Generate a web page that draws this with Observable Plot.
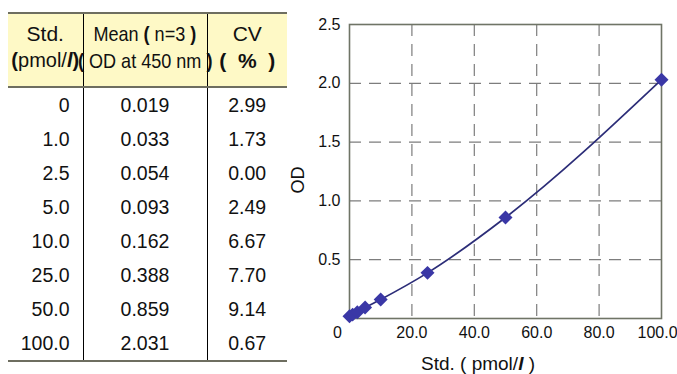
<!DOCTYPE html>
<html>
<head>
<meta charset="utf-8">
<script src="https://cdn.jsdelivr.net/npm/d3@7"></script>
<script src="https://cdn.jsdelivr.net/npm/@observablehq/plot@0.6"></script>
<style>
  html, body { margin: 0; padding: 0; background: #fff; }
  body { width: 677px; height: 374px; position: relative; overflow: hidden;
         font-family: "Liberation Sans", Arial, sans-serif; color: #111; }
  #tbl { position: absolute; left: 8px; top: 12px; border-collapse: collapse;
         table-layout: fixed; width: 279px; }
  #tbl th, #tbl td { padding: 0; border-left: 1px solid #000; border-right: 1px solid #000; }
  #tbl th:first-child, #tbl td:first-child { border-left: none; }
  #tbl th:last-child, #tbl td:last-child { border-right: none; }
  #tbl thead tr { border-top: 2px solid #6e6e60; border-bottom: 2px solid #6e6e60; background: #fef9c6; }
  #tbl tbody tr:last-child { border-bottom: 2px solid #6e6e60; }
  #tbl th { height: 66px; vertical-align: top; padding-top: 6px; font-weight: normal;
            text-align: center; font-size: 20px; line-height: 27px; white-space: nowrap; }
  #tbl td { height: 34px; font-size: 19.5px; text-align: center; }
  #tbl td.c0 { text-align: right; padding-right: 13px; }
  .fl { display: flex; justify-content: center; width: 100%; }
  .cond { display: inline-block; transform: scaleX(0.86); transform-origin: center; white-space: nowrap; font-size: 21px; }
  .bp { font-weight: bold; }
  #plot { position: absolute; left: 290px; top: 0; }
  #xlab { position: absolute; left: 378px; width: 200px; top: 353px; text-align: center;
          font-size: 19px; line-height: 22px; }
  #ylab { position: absolute; left: 278px; top: 169px; width: 40px; text-align: center;
          font-size: 18px; line-height: 22px; transform: rotate(-90deg); }
</style>
</head>
<body>
<table id="tbl">
  <colgroup><col style="width:75px"><col style="width:124px"><col style="width:80px"></colgroup>
  <thead><tr>
    <th><div style="font-size:21px">Std.</div><div class="fl"><span><span class="bp">(</span>pmol/<b><i>l</i></b><span class="bp">)</span></span></div></th>
    <th><div class="fl"><span class="cond">Mean <span class="bp">(</span> n=3 <span class="bp">)</span></span></div><div class="fl"><span class="cond"><span class="bp">(</span> OD at 450 nm <span class="bp">)</span></span></div></th>
    <th><div style="font-size:21px">CV</div><div class="bp" style="font-size:21px">(&nbsp;&nbsp;%&nbsp;&nbsp;)</div></th>
  </tr></thead>
  <tbody id="tb"></tbody>
</table>
<div id="plot"></div>
<div id="ylab">OD</div>
<div id="xlab">Std. ( pmol/<b><i>l</i></b> )</div>
<script>
const stdValues = [0, 1.0, 2.5, 5.0, 10.0, 25.0, 50.0, 100.0];
const stdLabels = ["0", "1.0", "2.5", "5.0", "10.0", "25.0", "50.0", "100.0"];
const meanOD = [0.019, 0.033, 0.054, 0.093, 0.162, 0.388, 0.859, 2.031];
const meanLabels = ["0.019", "0.033", "0.054", "0.093", "0.162", "0.388", "0.859", "2.031"];
const cvLabels = ["2.99", "1.73", "0.00", "2.49", "6.67", "7.70", "9.14", "0.67"];
const xTicks = [20, 40, 60, 80];
const xTickLast = [100];
const yTicks = [0.5, 1.0, 1.5, 2.0, 2.5];
const xGrid = [20, 40, 60, 80];
const yGrid = [0.5, 1.0, 1.5, 2.0];

// table
const tb = document.getElementById("tb");
stdLabels.forEach((s, i) => {
  const tr = document.createElement("tr");
  tr.innerHTML = `<td class="c0">${s}</td><td>${meanLabels[i]}</td><td>${cvLabels[i]}</td>`;
  tb.appendChild(tr);
});

const data = stdValues.map((x, i) => ({x, y: meanOD[i]}));

const chart = Plot.plot({
  width: 387,
  height: 374,
  marginLeft: 59,
  marginRight: 16,
  marginTop: 24,
  marginBottom: 56,
  style: {fontFamily: "'Liberation Sans', Arial, sans-serif", fontSize: "16px", color: "#111", background: "transparent", overflow: "visible"},
  x: {domain: [0, 100]},
  y: {domain: [0, 2.5]},
  marks: [
    Plot.gridX(xGrid, {stroke: "#7d7d7d", strokeOpacity: 1, strokeDasharray: "12,8", strokeWidth: 1.2}),
    Plot.gridY(yGrid, {stroke: "#7d7d7d", strokeOpacity: 1, strokeDasharray: "12,8", strokeWidth: 1.2}),
    Plot.frame({stroke: "#6f7466", strokeWidth: 1.6}),
    Plot.axisX(xTicks, {tickFormat: d => d.toFixed(1), tickSize: 0, tickPadding: 8, fontSize: 16, label: null}),
    Plot.axisX(xTickLast, {tickFormat: d => d.toFixed(1), tickSize: 0, tickPadding: 8, fontSize: 16, dx: -4, label: null}),
    Plot.axisX([0], {tickFormat: () => "0", tickSize: 0, tickPadding: 8, fontSize: 16, dx: -12, label: null}),
    Plot.axisY(yTicks, {tickFormat: d => d.toFixed(1), tickSize: 0, tickPadding: 9, fontSize: 16, label: null}),
    Plot.line(data, {x: "x", y: "y", curve: "monotone-x", stroke: "#2c2d78", strokeWidth: 1.7}),
    Plot.dot(data, {x: "x", y: "y", symbol: "diamond2", r: 6.3, fill: "#3a37a6"})
  ]
});
document.getElementById("plot").appendChild(chart);
</script>
</body>
</html>
